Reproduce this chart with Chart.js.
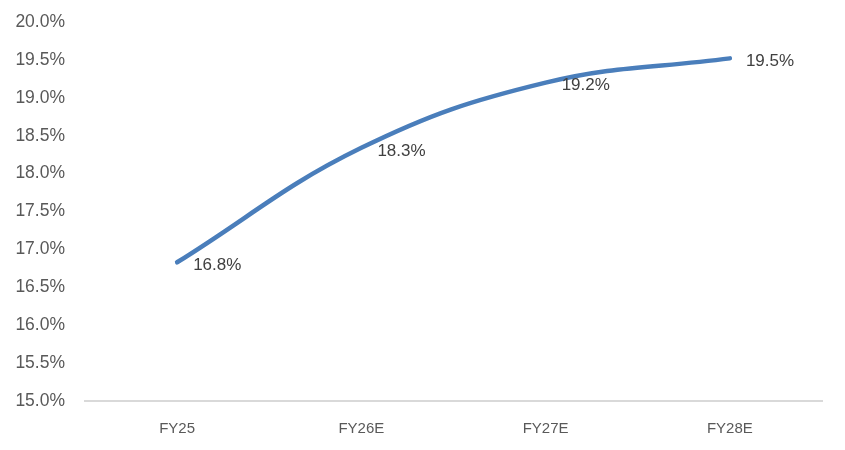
<!DOCTYPE html>
<html>
<head>
<meta charset="utf-8">
<script src="https://cdn.jsdelivr.net/npm/chart.js@4"></script>
<style>
  html, body { margin: 0; padding: 0; background: #fff; }
  #wrap { width: 845px; height: 450px; }
</style>
</head>
<body>
<div id="wrap"><canvas id="margin-chart"></canvas></div>
<script>
const categories = ["FY25", "FY26E", "FY27E", "FY28E"];
const marginValues = [16.83, 18.34, 19.2, 19.52];
const yTicks = [15.0, 15.5, 16.0, 16.5, 17.0, 17.5, 18.0, 18.5, 19.0, 19.5, 20.0];

const fontName = "'Liberation Sans', Arial, sans-serif";

// draws the value labels to the right of each point
const pointLabels = {
  id: "pointLabels",
  afterDatasetsDraw(chart) {
    const ctx = chart.ctx;
    const meta = chart.getDatasetMeta(0);
    ctx.save();
    ctx.font = "17px " + fontName;
    ctx.fillStyle = "#404040";
    ctx.textAlign = "left";
    ctx.textBaseline = "middle";
    meta.data.forEach((pt, i) => {
      ctx.fillText(marginValues[i].toFixed(1) + "%", pt.x + 16, pt.y + 3);
    });
    ctx.restore();
  },
};

const ctx = document.getElementById("margin-chart");

new Chart(ctx, {
  type: "line",
  data: {
    labels: categories,
    datasets: [
      {
        data: marginValues,
        borderColor: "#4A7EBB",
        borderWidth: 4.5,
        borderCapStyle: "round",
        tension: 0.4,
        pointRadius: 0,
        fill: false,
      },
    ],
  },
  options: {
    responsive: true,
    maintainAspectRatio: false,
    animation: false,
    layout: {
      padding: { top: 22, right: 23, bottom: 0, left: 0 },
    },
    plugins: {
      legend: { display: false },
      tooltip: { enabled: false },
    },
    scales: {
      x: {
        offset: true,
        afterFit: (scale) => {
          scale.height = 49;
        },
        grid: { display: false, drawTicks: false, offset: true },
        border: { display: true, color: "#d9d9d9", width: 2 },
        ticks: {
          color: "#595959",
          font: { family: fontName, size: 15 },
          padding: 19,
          maxRotation: 0,
        },
      },
      y: {
        min: 15,
        max: 20,
        afterBuildTicks: (scale) => {
          scale.ticks = yTicks.map((v) => ({ value: v }));
        },
        afterFit: (scale) => {
          scale.width = 85;
          scale.paddingTop = 0;
          scale.paddingBottom = 0;
        },
        grid: { display: false, drawTicks: false },
        border: { display: false },
        ticks: {
          color: "#595959",
          font: { family: fontName, size: 17.5 },
          padding: 20,
          callback: (v) => v.toFixed(1) + "%",
        },
      },
    },
  },
  plugins: [pointLabels],
});
</script>
</body>
</html>
